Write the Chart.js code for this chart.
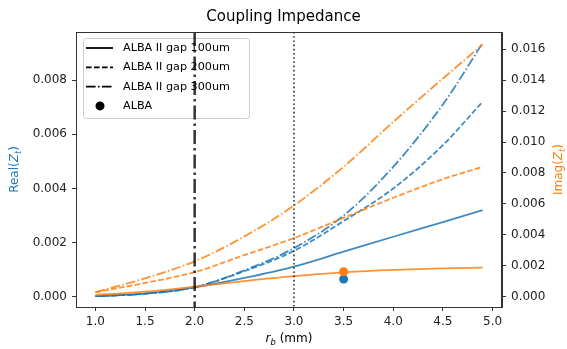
<!DOCTYPE html>
<html>
<head>
<meta charset="utf-8">
<title>Coupling Impedance</title>
<script src="https://cdn.jsdelivr.net/npm/chart.js@4.4.1/dist/chart.umd.min.js"></script>
<style>
    html, body { margin: 0; padding: 0; background: #fff; }
    #wrap { width: 567px; height: 349px; }
</style>
</head>
<body>
<div id="wrap"><canvas id="impedance"></canvas></div>
<script>
// beam pipe radius r_b (mm)
var rb = [1.0, 1.5, 2.0, 2.5, 3.0, 3.5, 4.0, 4.5, 4.9];

// Real(Z_t), left axis
var realGap100 = [0.00003, 0.00012, 0.00035, 0.0007, 0.00112, 0.00167, 0.00222, 0.00276, 0.0032];
var realGap200 = [0.00003, 0.00012, 0.00036, 0.00095, 0.0017, 0.0028, 0.0040, 0.0056, 0.0072];
var realGap300 = [0.00003, 0.00012, 0.00036, 0.00098, 0.0018, 0.0030, 0.0048, 0.0071, 0.00936];

// Imag(Z_t), right axis
var imagGap100 = [0.00012, 0.00034, 0.00066, 0.00102, 0.00134, 0.00158, 0.00174, 0.00184, 0.00189];
var imagGap200 = [0.0003, 0.0009, 0.0016, 0.0027, 0.0038, 0.0051, 0.0064, 0.0076, 0.0084];
var imagGap300 = [0.0003, 0.0012, 0.0023, 0.0039, 0.0059, 0.0084, 0.0113, 0.0141, 0.0163];

// ALBA point
var albaRb = [3.5];
var albaReal = [0.00066];
var albaImag = [0.00163];

// marker lines
var vLines = [2.0, 3.0];

// ticks
var xTicks = [1.0, 1.5, 2.0, 2.5, 3.0, 3.5, 4.0, 4.5, 5.0];
var realTicks = [0, 0.002, 0.004, 0.006, 0.008];
var imagTicks = [0, 0.002, 0.004, 0.006, 0.008, 0.010, 0.012, 0.014, 0.016];

var legendLabels = ['ALBA II gap 100um', 'ALBA II gap 200um', 'ALBA II gap 300um', 'ALBA'];

var BLUE = 'rgba(31, 119, 180, 0.85)';
var ORANGE = 'rgba(255, 127, 14, 0.85)';
var FONT = '"DejaVu Sans", sans-serif';
var DASHED = [5.6, 2.4];
var DASHDOT = [9.6, 2.4, 1.5, 2.4];

function pts(xs, ys) {
    return xs.map(function (x, i) { return { x: x, y: ys[i] }; });
}

function curve(data, color, dash, axis) {
    return {
        data: data,
        yAxisID: axis,
        borderColor: color,
        borderWidth: 1.8,
        borderDash: dash,
        pointRadius: 0,
        fill: false,
        cubicInterpolationMode: 'monotone',
        order: axis === 'y' ? 2 : 1
    };
}

function dot(data, color, axis) {
    return {
        data: data,
        yAxisID: axis,
        showLine: false,
        pointRadius: 4.5,
        pointBackgroundColor: color,
        pointBorderWidth: 0,
        order: axis === 'y' ? 2 : 1
    };
}

// draws text made of normal / italic / subscript parts, centred at (0,0)
function drawRich(ctx, parts, size) {
    var widths = parts.map(function (p) {
        ctx.font = (p.it ? 'italic ' : '') + (p.sub ? size * 0.7 : size) + 'px ' + FONT;
        return ctx.measureText(p.t).width;
    });
    var total = widths.reduce(function (a, b) { return a + b; }, 0);
    var x = -total / 2;
    ctx.textAlign = 'left';
    ctx.textBaseline = 'middle';
    parts.forEach(function (p, i) {
        ctx.font = (p.it ? 'italic ' : '') + (p.sub ? size * 0.7 : size) + 'px ' + FONT;
        ctx.fillText(p.t, x, p.sub ? size * 0.3 : 0);
        x += widths[i];
    });
}

var decorations = {
    id: 'decorations',
    afterDatasetsDraw: function (chart) {
        var ctx = chart.ctx, area = chart.chartArea, xs = chart.scales.x;
        ctx.save();

        // Legend
        var lx = area.left + 7, ly = area.top + 6;
        ctx.beginPath();
        ctx.roundRect(lx + 0.5, ly + 0.5, 166, 80, 3);
        ctx.fillStyle = 'rgba(255,255,255,0.8)';
        ctx.fill();
        ctx.strokeStyle = '#cccccc';
        ctx.lineWidth = 1;
        ctx.stroke();

        var dashes = [[], DASHED, DASHDOT];
        ctx.font = '11.2px ' + FONT;
        ctx.textBaseline = 'middle';
        ctx.textAlign = 'left';
        legendLabels.forEach(function (label, i) {
            var ry = ly + 10 + i * 19.3;
            if (i < 3) {
                ctx.beginPath();
                ctx.setLineDash(dashes[i]);
                ctx.moveTo(lx + 3, ry);
                ctx.lineTo(lx + 30, ry);
                ctx.strokeStyle = '#000';
                ctx.lineWidth = 1.8;
                ctx.stroke();
                ctx.setLineDash([]);
            } else {
                ctx.beginPath();
                ctx.arc(lx + 17, ry, 4.5, 0, Math.PI * 2);
                ctx.fillStyle = '#000';
                ctx.fill();
            }
            ctx.fillStyle = '#000';
            ctx.fillText(label, lx + 40, ry);
        });

        // Vertical marker lines
        var styles = [
            { w: 2.5, dash: [14, 4, 2.5, 4], color: 'rgba(0,0,0,0.8)' },
            { w: 1.6, dash: [1.6, 2.6], color: 'rgba(0,0,0,0.8)' }
        ];
        vLines.forEach(function (v, i) {
            var px = xs.getPixelForValue(v);
            ctx.beginPath();
            ctx.setLineDash(styles[i].dash);
            ctx.lineWidth = styles[i].w;
            ctx.strokeStyle = styles[i].color;
            ctx.moveTo(px, area.top);
            ctx.lineTo(px, area.bottom);
            ctx.stroke();
        });
        ctx.setLineDash([]);

        // Frame
        ctx.strokeStyle = '#333';
        ctx.lineWidth = 1;
        ctx.strokeRect(area.left + 0.5, area.top + 0.5, area.right - area.left - 1, area.bottom - area.top);
        ctx.restore();
    },
    afterDraw: function (chart) {
        var ctx = chart.ctx, area = chart.chartArea;
        var midY = (area.top + area.bottom) / 2;
        ctx.save();

        ctx.fillStyle = '#1f77b4';
        ctx.translate(15, midY);
        ctx.rotate(-Math.PI / 2);
        drawRich(ctx, [{ t: 'Real(' }, { t: 'Z', it: true }, { t: 't', it: true, sub: true }, { t: ')' }], 12);
        ctx.setTransform(1, 0, 0, 1, 0, 0);

        ctx.fillStyle = '#ff7f0e';
        ctx.translate(559, midY);
        ctx.rotate(-Math.PI / 2);
        drawRich(ctx, [{ t: 'Imag(' }, { t: 'Z', it: true }, { t: 't', it: true, sub: true }, { t: ')' }], 12);
        ctx.setTransform(1, 0, 0, 1, 0, 0);

        ctx.fillStyle = '#000';
        ctx.translate((area.left + area.right) / 2, 339);
        drawRich(ctx, [{ t: 'r', it: true }, { t: 'b', it: true, sub: true }, { t: ' (mm)' }], 12);
        ctx.restore();
    }
};

function axisGrid() {
    return { drawOnChartArea: false, drawTicks: true, tickLength: 4, color: '#333', tickColor: '#333' };
}

var tickFont = { family: FONT, size: 12 };

var ctx = document.getElementById('impedance').getContext('2d');
var impedanceChart = new Chart(ctx, {
    type: 'line',
    data: {
        datasets: [
            curve(pts(rb, realGap100), BLUE, [], 'y'),
            curve(pts(rb, realGap200), BLUE, DASHED, 'y'),
            curve(pts(rb, realGap300), BLUE, DASHDOT, 'y'),
            dot(pts(albaRb, albaReal), '#1f77b4', 'y'),
            curve(pts(rb, imagGap100), ORANGE, [], 'y2'),
            curve(pts(rb, imagGap200), ORANGE, DASHED, 'y2'),
            curve(pts(rb, imagGap300), ORANGE, DASHDOT, 'y2'),
            dot(pts(albaRb, albaImag), '#ff7f0e', 'y2')
        ]
    },
    options: {
        responsive: true,
        maintainAspectRatio: false,
        animation: false,
        devicePixelRatio: 1,
        layout: { padding: 0 },
        plugins: {
            legend: { display: false },
            tooltip: { enabled: false },
            title: {
                display: true,
                text: 'Coupling Impedance',
                color: '#000',
                font: { family: FONT, size: 15, weight: 'normal' },
                padding: { top: 8, bottom: 6 }
            }
        },
        scales: {
            x: {
                type: 'linear',
                min: 0.805,
                max: 5.095,
                grid: axisGrid(),
                border: { color: '#333' },
                afterBuildTicks: function (s) { s.ticks = xTicks.map(function (v) { return { value: v }; }); },
                afterFit: function (s) { s.height = 42; },
                ticks: {
                    font: tickFont, color: '#222', padding: 4, maxRotation: 0,
                    callback: function (v) { return v.toFixed(1); }
                }
            },
            y: {
                type: 'linear',
                position: 'left',
                min: -0.00037,
                max: 0.00977,
                grid: axisGrid(),
                border: { color: '#333' },
                afterBuildTicks: function (s) { s.ticks = realTicks.map(function (v) { return { value: v }; }); },
                afterFit: function (s) { s.width = 76; },
                ticks: {
                    font: tickFont, color: '#222', padding: 5,
                    callback: function (v) { return v.toFixed(3); }
                }
            },
            y2: {
                type: 'linear',
                position: 'right',
                min: -0.00065,
                max: 0.0171,
                grid: axisGrid(),
                border: { color: '#333' },
                afterBuildTicks: function (s) { s.ticks = imagTicks.map(function (v) { return { value: v }; }); },
                afterFit: function (s) { s.width = 65; },
                ticks: {
                    font: tickFont, color: '#222', padding: 5,
                    callback: function (v) { return v.toFixed(3); }
                }
            }
        }
    },
    plugins: [decorations]
});
</script>
</body>
</html>
